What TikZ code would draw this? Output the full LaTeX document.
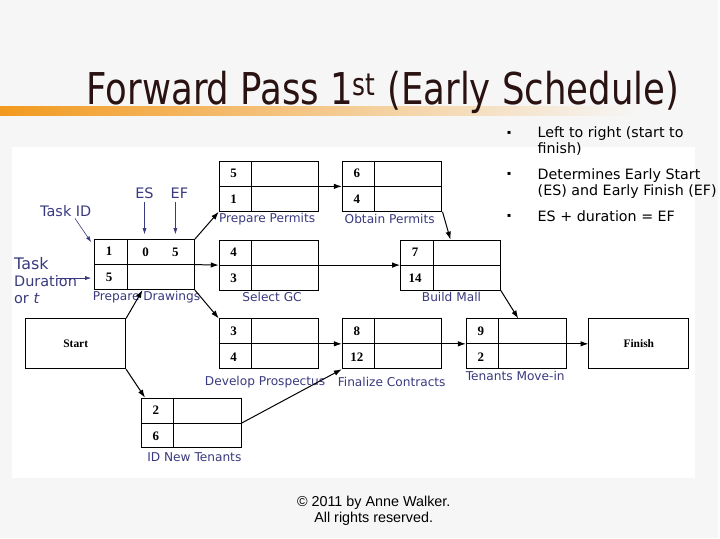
\documentclass[tikz,border=0pt]{standalone}
\usepackage{fontspec}
\setmainfont{DejaVu Sans}
\newfontfamily\titlefont[FakeStretch=0.9]{DejaVu Sans Condensed}
\newfontfamily\numfont{Liberation Serif}
\newfontfamily\copyfont{Liberation Sans}
\usetikzlibrary{arrows.meta}
\definecolor{slidebg}{HTML}{F6F6F6}
\definecolor{barorange}{HTML}{F29A1F}
\definecolor{titlebrown}{HTML}{2B1212}
\definecolor{annot}{HTML}{3A3A80}

\begin{document}
\begin{tikzpicture}[x=1pt,y=-1pt,
    taskbox/.style={draw,line width=1pt,minimum width=100pt,minimum height=50pt,inner sep=0pt},
    num/.style={font=\numfont\bfseries\fontsize{13}{14}\selectfont},
    lbl/.style={text=annot,font=\fontsize{12.2}{14}\selectfont},
    notelbl/.style={text=annot,font=\fontsize{14.5}{17}\selectfont},
    link/.style={line width=1pt,-{Latex[length=8pt,width=5.5pt]}},
    note/.style={annot,line width=0.6pt,-{Latex[length=6pt,width=4pt]}}]
    % slide
    \fill[slidebg] (0,0) rectangle (720,540);
    \fill[white] (12,148) rectangle (697,480);
    \shade[left color=barorange,middle color=barorange!45!slidebg,right color=slidebg] (0,107) rectangle (640,116);
    \node[anchor=base west,inner sep=0pt,text=titlebrown,font=\titlefont\fontsize{44}{48}\selectfont] (title) at (87,105) {Forward Pass 1\textsuperscript{st} (Early Schedule)};

    % bullets
    \foreach \y in {138,180,222}
        \node[font=\fontsize{6}{8}\selectfont] at (511,\y-5) {▪};
    \node[anchor=base west,font=\fontsize{14.3}{16}\selectfont] (b1) at (536,138) {Left to right (start to};
    \node[anchor=base west,font=\fontsize{14.3}{16}\selectfont] (b1b) at (536,154) {finish)};
    \node[anchor=base west,font=\fontsize{14.3}{16}\selectfont] (b2) at (536,180) {Determines Early Start};
    \node[anchor=base west,font=\fontsize{14.3}{16}\selectfont] (b2b) at (536,196) {(ES) and Early Finish (EF)};
    \node[anchor=base west,font=\fontsize{14.3}{16}\selectfont] (b3) at (536,222) {ES + duration = EF};

    % tasks
    \foreach \n/\x/\y/\i/\d in {pd/145/265.5/1/5, pp/270/187/5/1, op/393.5/187/6/4,
            sgc/270/266/4/3, bm/452/266/7/14, dp/270/345/3/4, fc/393.5/345/8/12,
            tm/518/345/9/2, nt/192/424.5/2/6}{
        \node[taskbox] (\n) at (\x,\y) {};
        \draw[line width=1pt] (\n.west) -- (\n.east);
        \draw[line width=1pt] ([xshift=33pt]\n.north west) -- ([xshift=33pt]\n.south west);
        \node[num] (\n-id) at ([xshift=15pt,yshift=-12.5pt]\n.north west) {\i};
        \node[num] (\n-t) at ([xshift=15pt,yshift=12.5pt]\n.south west) {\d};
    }
    \node[num] (pd-es) at (146,253.5) {0};
    \node[num] (pd-ef) at (176,253.5) {5};
    \node[taskbox,font=\numfont\bfseries\fontsize{11.5}{12}\selectfont] (start) at (76,345) {Start};
    \node[taskbox,font=\numfont\bfseries\fontsize{11.5}{12}\selectfont] (finish) at (641,345) {Finish};

    \node[lbl] (pd-l) at (147,298) {Prepare Drawings};
    \node[lbl] (pp-l) at (268,220) {Prepare Permits};
    \node[lbl] (op-l) at (391,220) {Obtain Permits};
    \node[lbl] (sgc-l) at (273,298) {Select GC};
    \node[lbl] (bm-l) at (453,298) {Build Mall};
    \node[lbl] (dp-l) at (266,383) {Develop Prospectus};
    \node[lbl] (fc-l) at (393,383) {Finalize Contracts};
    \node[lbl] (tm-l) at (517,377) {Tenants Move-in};
    \node[lbl] (nt-l) at (195,459) {ID New Tenants};

    % links
    \draw[link] (start.north east) -- ([xshift=-2pt]pd.south);
    \draw[link] (start.south east) -- ([xshift=4pt]nt.north west);
    \draw[link] (pd.north east) -- (pp.south west);
    \draw[link] (pd.east) -- (sgc.west);
    \draw[link] (pd.south east) -- (dp.north west);
    \draw[link] (pp.east) -- (op.west);
    \draw[link] (op.south east) -- (bm.north);
    \draw[link] (sgc.east) -- (bm.west);
    \draw[link] (bm.south east) -- ([xshift=2pt]tm.north);
    \draw[link] (dp.east) -- (fc.west);
    \draw[link] (nt.east) -- (fc.south west);
    \draw[link] (fc.east) -- (tm.west);
    \draw[link] (tm.east) -- (finish.west);

    % notes
    \node[notelbl] (tid) at (66,212) {Task ID};
    \node[notelbl] (es) at (145,194) {ES};
    \node[notelbl] (ef) at (180,194) {EF};
    \node[notelbl,align=left,anchor=north west,inner sep=0pt] (tdur) at (14,258) {{\fontsize{16}{17}\selectfont Task}\\Duration\\or \textit{t}};
    \coordinate (tdur-a) at (57,279);
    \draw[note] ([xshift=-20pt,yshift=2pt]tid.south east) -- ([xshift=-3pt,yshift=-3pt]pd.north west);
    \draw[note] (es.south) -- ([yshift=5pt]es |- pd.north);
    \draw[note] ([xshift=-4pt]ef.south) -- ([yshift=5pt]pd-ef |- pd.north);
    \draw[note] (tdur-a) -- ([xshift=-3pt,yshift=12pt]pd.south west);

    \node[align=center,font=\copyfont\fontsize{14.4}{16}\selectfont] (copy) at (375,513) {© 2011 by Anne Walker.\\All rights reserved.};
\end{tikzpicture}
\end{document}
